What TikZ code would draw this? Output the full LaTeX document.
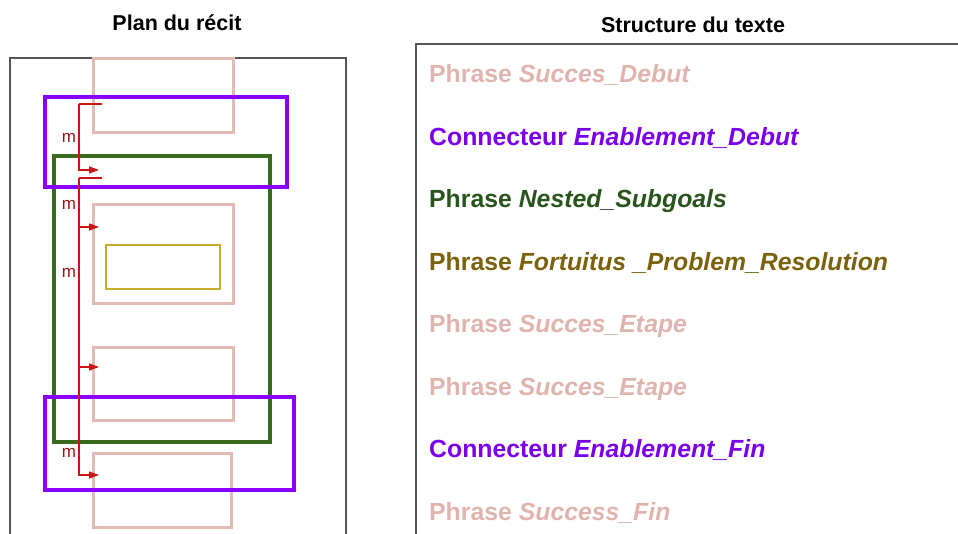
\documentclass[tikz,border=0pt]{standalone}
\usepackage{fontspec}
\setmainfont{Liberation Sans}
\usepackage{tikz}
\usetikzlibrary{arrows.meta}
\definecolor{rose}{RGB}{226,188,180}
\definecolor{rosetext}{RGB}{224,180,174}
\definecolor{violet}{RGB}{138,0,255}
\definecolor{violettext}{RGB}{122,0,232}
\definecolor{vert}{RGB}{58,106,32}
\definecolor{verttext}{RGB}{42,84,30}
\definecolor{olive}{RGB}{200,172,44}
\definecolor{olivetext}{RGB}{122,98,12}
\definecolor{rouge}{RGB}{200,22,22}
\definecolor{cadre}{RGB}{85,85,85}
\tikzstyle{every picture}=[> = {Triangle[length=10pt,width=7pt]}]
\tikzstyle{bloc}=[draw, rectangle, inner sep=0pt]
\tikzstyle{titre}=[font=\bfseries\fontsize{21.5}{21.5}\selectfont]
\tikzstyle{ligne}=[anchor=base west, inner sep=0pt, font=\bfseries\fontsize{24.8}{24.8}\selectfont]
\tikzstyle{lien}=[draw=rouge, line width=1.3pt]
\tikzstyle{mlabel}=[text=rouge!80!black, font=\fontsize{17}{17}\selectfont]

\begin{document}
\begin{tikzpicture}[x=1pt,y=-1pt]
    \useasboundingbox (0,0) rectangle (958,533);
    % titles and frames
    \node[titre] (plan) at (177,23) {Plan du récit};
    \node[titre] (structure) at (693,25) {Structure du texte};
    \draw[cadre, line width=1.3pt] (10,540) -- (10,58) -- (346,58) -- (346,540);
    \draw[cadre, line width=1.3pt] (970,44) -- (416,44) -- (416,540);
    % plan du recit
    \node[bloc, draw=rose, line width=3pt, minimum width=140, minimum height=74] (debut) at (163,95) {};
    \node[bloc, draw=rose, line width=3pt, minimum width=140, minimum height=99] (sub) at (163,253.5) {};
    \node[bloc, draw=olive, line width=2.5pt, minimum width=114, minimum height=44] (fortuit) at (163,267) {};
    \node[bloc, draw=rose, line width=3pt, minimum width=140, minimum height=73] (etape) at (163,383.5) {};
    \node[bloc, draw=rose, line width=3pt, minimum width=138, minimum height=74] (fin) at (162,490) {};
    \node[bloc, draw=vert, line width=4pt, minimum width=216, minimum height=286] (nested) at (162,299) {};
    \node[bloc, draw=violet, line width=4.5pt, minimum width=242, minimum height=90] (enabdeb) at (166,142) {};
    \node[bloc, draw=violet, line width=4.5pt, minimum width=249, minimum height=93] (enabfin) at (169.5,443.5) {};
    % liens m
    \coordinate (t1) at (102,104);
    \coordinate (k1) at (79,104);
    \coordinate (h1) at (99,170);
    \coordinate (t2) at (102,178);
    \coordinate (k2) at (79,178);
    \coordinate (h2) at (99,227);
    \coordinate (h3) at (99,367);
    \coordinate (h4) at (99,475);
    \draw[lien] (t1) -- (k1);
    \draw[lien,->] (k1) |- (h1);
    \draw[lien] (t2) -- (k2);
    \draw[lien,->] (k2) |- (h2);
    \draw[lien,->] (k2) |- (h3);
    \draw[lien,->] (k2) |- (h4);
    \node[mlabel] (m1) at (69,138) {m};
    \node[mlabel] (m2) at (69,205) {m};
    \node[mlabel] (m3) at (69,273) {m};
    \node[mlabel] (m4) at (69,453) {m};
    % structure du texte
    \node[ligne, text=rosetext] (l1) at (429,82) {Phrase \textit{Succes\_Debut}};
    \node[ligne, text=violettext] (l2) at (429,145) {Connecteur \textit{Enablement\_Debut}};
    \node[ligne, text=verttext] (l3) at (429,207) {Phrase \textit{Nested\_Subgoals}};
    \node[ligne, text=olivetext] (l4) at (429,270) {Phrase \textit{Fortuitus \_Problem\_Resolution}};
    \node[ligne, text=rosetext] (l5) at (429,332) {Phrase \textit{Succes\_Etape}};
    \node[ligne, text=rosetext] (l6) at (429,395) {Phrase \textit{Succes\_Etape}};
    \node[ligne, text=violettext] (l7) at (429,457) {Connecteur \textit{Enablement\_Fin}};
    \node[ligne, text=rosetext] (l8) at (429,520) {Phrase \textit{Success\_Fin}};
\end{tikzpicture}
\end{document}
